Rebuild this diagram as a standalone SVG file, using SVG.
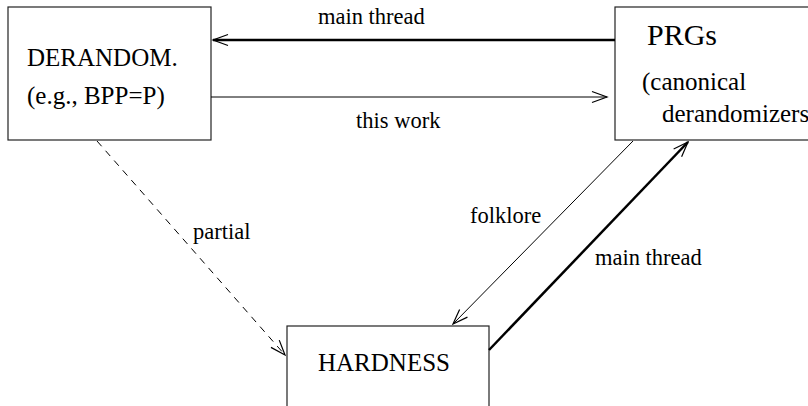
<svg xmlns="http://www.w3.org/2000/svg" width="808" height="406" viewBox="0 0 808 406">
<style>
.box{fill:#fff;stroke:#222;stroke-width:1.2}
.node{font-family:"Liberation Serif","Times New Roman",serif;font-size:25px;fill:#000}
.lbl{font-family:"Liberation Serif","Times New Roman",serif;font-size:22.5px;fill:#000}
.thin{stroke:#000;stroke-width:1;fill:none}
.thick{stroke:#000;stroke-width:2.5;fill:none}
.dash{stroke:#000;stroke-width:1;fill:none;stroke-dasharray:7 6}
</style>
<defs>
<marker id="ah" markerUnits="userSpaceOnUse" viewBox="-16 -8 18 16" refX="0" refY="0" markerWidth="18" markerHeight="16" orient="auto" overflow="visible">
<path d="M-15,-5.5 L0,0 L-15,5.5" fill="none" stroke="#000" stroke-width="1.2"/>
</marker>
</defs>
<rect width="808" height="406" fill="#fff"/>
<g id="derandom">
<rect class="box" x="8" y="7" width="203" height="133"/>
<text class="node" x="27" y="66">DERANDOM.</text>
<text class="node" x="27" y="104">(e.g., BPP=P)</text>
</g>
<g id="prgs">
<rect class="box" x="615" y="7" width="220" height="133"/>
<text class="node" x="647" y="45" style="font-size:30px">PRGs</text>
<text class="node" x="642" y="90">(canonical</text>
<text class="node" x="662" y="122">derandomizers</text>
</g>
<g id="hardness">
<rect class="box" x="287" y="326" width="202" height="133"/>
<text class="node" x="318" y="371">HARDNESS</text>
</g>
<g id="connectors">
<line class="thick" x1="615" y1="40" x2="213" y2="40" marker-end="url(#ah)"/>
<line class="thin" x1="211" y1="97" x2="607" y2="97" marker-end="url(#ah)"/>
<line class="thin" x1="633" y1="141" x2="453" y2="324" marker-end="url(#ah)"/>
<line class="thick" x1="489" y1="350" x2="688" y2="142" marker-end="url(#ah)"/>
<line class="dash" x1="97" y1="141" x2="285" y2="355" marker-end="url(#ah)"/>
<text class="lbl" x="318" y="24">main thread</text>
<text class="lbl" x="356" y="128">this work</text>
<text class="lbl" x="470" y="223">folklore</text>
<text class="lbl" x="595" y="265">main thread</text>
<text class="lbl" x="193" y="239">partial</text>
</g>
</svg>
